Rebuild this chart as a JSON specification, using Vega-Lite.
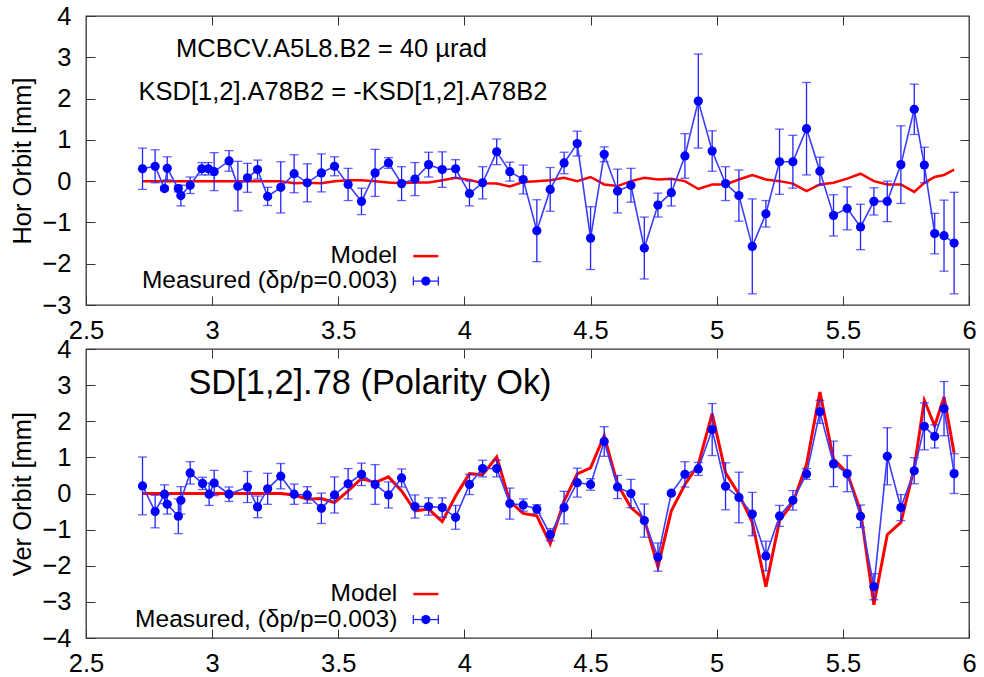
{
  "$schema": "https://vega.github.io/schema/vega-lite/v6.json",
  "padding": {"left": 10, "top": 3, "right": 5, "bottom": 5},
  "background": "#ffffff",
  "bounds": "flush",
  "spacing": 44,
  "datasets": {
    "hor": [
      {"x": 2.724, "y": 0.30, "e": 0.50, "m": 0},
      {"x": 2.774, "y": 0.36, "e": 0.40, "m": 0},
      {"x": 2.811, "y": -0.18, "e": 0.05, "m": 0},
      {"x": 2.822, "y": 0.31, "e": 0.28, "m": 0},
      {"x": 2.866, "y": -0.18, "e": 0.08, "m": 0},
      {"x": 2.876, "y": -0.35, "e": 0.25, "m": 0},
      {"x": 2.913, "y": -0.10, "e": 0.20, "m": 0},
      {"x": 2.959, "y": 0.30, "e": 0.15, "m": 0},
      {"x": 2.985, "y": 0.30, "e": 0.15, "m": 0},
      {"x": 3.008, "y": 0.23, "e": 0.46, "m": 0},
      {"x": 3.067, "y": 0.49, "e": 0.25, "m": 0},
      {"x": 3.102, "y": -0.12, "e": 0.60, "m": 0},
      {"x": 3.140, "y": 0.08, "e": 0.35, "m": 0},
      {"x": 3.180, "y": 0.28, "e": 0.23, "m": 0},
      {"x": 3.220, "y": -0.37, "e": 0.22, "m": 0},
      {"x": 3.272, "y": -0.15, "e": 0.62, "m": 0},
      {"x": 3.325, "y": 0.18, "e": 0.46, "m": -0.05},
      {"x": 3.377, "y": -0.04, "e": 0.46, "m": -0.04},
      {"x": 3.433, "y": 0.20, "e": 0.46, "m": -0.05},
      {"x": 3.485, "y": 0.36, "e": 0.23, "m": 0},
      {"x": 3.539, "y": -0.08, "e": 0.39, "m": 0.02},
      {"x": 3.592, "y": -0.49, "e": 0.32, "m": 0.02},
      {"x": 3.646, "y": 0.20, "e": 0.57, "m": 0},
      {"x": 3.699, "y": 0.44, "e": 0.13, "m": -0.03},
      {"x": 3.751, "y": -0.06, "e": 0.41, "m": -0.05},
      {"x": 3.804, "y": 0.05, "e": 0.40, "m": -0.03},
      {"x": 3.858, "y": 0.40, "e": 0.30, "m": -0.03},
      {"x": 3.912, "y": 0.28, "e": 0.43, "m": 0.02},
      {"x": 3.965, "y": 0.30, "e": 0.22, "m": 0.08},
      {"x": 4.020, "y": -0.30, "e": 0.30, "m": 0.03},
      {"x": 4.072, "y": -0.04, "e": 0.39, "m": -0.05},
      {"x": 4.128, "y": 0.71, "e": 0.31, "m": -0.06},
      {"x": 4.180, "y": 0.23, "e": 0.23, "m": -0.13},
      {"x": 4.233, "y": 0.04, "e": 0.35, "m": -0.02},
      {"x": 4.287, "y": -1.20, "e": 0.75, "m": 0},
      {"x": 4.340, "y": -0.20, "e": 0.53, "m": 0.02},
      {"x": 4.395, "y": 0.44, "e": 0.26, "m": 0.08},
      {"x": 4.447, "y": 0.91, "e": 0.30, "m": 0},
      {"x": 4.500, "y": -1.38, "e": 0.76, "m": 0.10},
      {"x": 4.554, "y": 0.65, "e": 0.18, "m": -0.08},
      {"x": 4.607, "y": -0.24, "e": 0.53, "m": -0.12},
      {"x": 4.660, "y": -0.10, "e": 0.41, "m": 0},
      {"x": 4.713, "y": -1.62, "e": 0.75, "m": 0.08},
      {"x": 4.767, "y": -0.58, "e": 0.29, "m": 0.04},
      {"x": 4.820, "y": -0.28, "e": 0.32, "m": 0.06},
      {"x": 4.874, "y": 0.61, "e": 0.54, "m": 0},
      {"x": 4.927, "y": 1.94, "e": 1.14, "m": -0.19},
      {"x": 4.982, "y": 0.73, "e": 0.49, "m": -0.08},
      {"x": 5.035, "y": -0.06, "e": 0.41, "m": -0.08},
      {"x": 5.088, "y": -0.35, "e": 0.62, "m": 0.04},
      {"x": 5.141, "y": -1.58, "e": 1.15, "m": 0.15},
      {"x": 5.195, "y": -0.79, "e": 0.32, "m": 0.04},
      {"x": 5.249, "y": 0.47, "e": 0.79, "m": 0},
      {"x": 5.302, "y": 0.47, "e": 0.64, "m": -0.06},
      {"x": 5.356, "y": 1.27, "e": 1.12, "m": -0.24},
      {"x": 5.409, "y": 0.24, "e": 0.34, "m": -0.08},
      {"x": 5.463, "y": -0.83, "e": 0.50, "m": -0.04},
      {"x": 5.517, "y": -0.66, "e": 0.52, "m": 0.06},
      {"x": 5.570, "y": -1.11, "e": 0.55, "m": 0.18},
      {"x": 5.623, "y": -0.49, "e": 0.33, "m": 0},
      {"x": 5.676, "y": -0.49, "e": 0.49, "m": -0.08},
      {"x": 5.730, "y": 0.40, "e": 0.94, "m": -0.08},
      {"x": 5.783, "y": 1.74, "e": 0.61, "m": -0.26},
      {"x": 5.823, "y": 0.39, "e": 0.43, "m": -0.04},
      {"x": 5.864, "y": -1.27, "e": 0.49, "m": 0.10},
      {"x": 5.901, "y": -1.32, "e": 0.86, "m": 0.15},
      {"x": 5.941, "y": -1.50, "e": 1.23, "m": 0.28}
    ],
    "ver": [
      {"x": 2.724, "y": 0.21, "e": 0.80, "m": 0},
      {"x": 2.774, "y": -0.50, "e": 0.45, "m": 0},
      {"x": 2.811, "y": -0.02, "e": 0.26, "m": 0},
      {"x": 2.822, "y": -0.30, "e": 0.27, "m": 0},
      {"x": 2.866, "y": -0.63, "e": 0.48, "m": 0},
      {"x": 2.876, "y": -0.19, "e": 0.38, "m": 0},
      {"x": 2.913, "y": 0.57, "e": 0.31, "m": 0},
      {"x": 2.962, "y": 0.28, "e": 0.17, "m": 0},
      {"x": 2.988, "y": -0.02, "e": 0.31, "m": 0},
      {"x": 3.008, "y": 0.29, "e": 0.35, "m": 0},
      {"x": 3.067, "y": -0.02, "e": 0.20, "m": 0},
      {"x": 3.140, "y": 0.18, "e": 0.43, "m": 0},
      {"x": 3.180, "y": -0.37, "e": 0.30, "m": 0},
      {"x": 3.220, "y": 0.13, "e": 0.43, "m": 0},
      {"x": 3.272, "y": 0.48, "e": 0.35, "m": 0},
      {"x": 3.325, "y": -0.02, "e": 0.28, "m": -0.04},
      {"x": 3.377, "y": -0.04, "e": 0.23, "m": -0.16},
      {"x": 3.433, "y": -0.41, "e": 0.42, "m": -0.14},
      {"x": 3.485, "y": -0.04, "e": 0.50, "m": -0.25},
      {"x": 3.539, "y": 0.27, "e": 0.42, "m": 0.07},
      {"x": 3.592, "y": 0.53, "e": 0.31, "m": 0.42},
      {"x": 3.646, "y": 0.25, "e": 0.55, "m": 0.30},
      {"x": 3.699, "y": -0.04, "e": 0.36, "m": 0.46},
      {"x": 3.751, "y": 0.43, "e": 0.25, "m": 0.07},
      {"x": 3.804, "y": -0.36, "e": 0.32, "m": -0.48},
      {"x": 3.858, "y": -0.36, "e": 0.24, "m": -0.43},
      {"x": 3.912, "y": -0.39, "e": 0.27, "m": -0.78},
      {"x": 3.965, "y": -0.66, "e": 0.33, "m": -0.07},
      {"x": 4.020, "y": 0.25, "e": 0.28, "m": 0.55},
      {"x": 4.072, "y": 0.69, "e": 0.23, "m": 0.52},
      {"x": 4.128, "y": 0.69, "e": 0.23, "m": 1.01},
      {"x": 4.180, "y": -0.28, "e": 0.43, "m": -0.22},
      {"x": 4.233, "y": -0.32, "e": 0.17, "m": -0.55},
      {"x": 4.287, "y": -0.43, "e": 0.12, "m": -0.62},
      {"x": 4.340, "y": -1.14, "e": 0.17, "m": -1.39},
      {"x": 4.395, "y": -0.39, "e": 0.45, "m": -0.21},
      {"x": 4.447, "y": 0.30, "e": 0.40, "m": 0.54},
      {"x": 4.500, "y": 0.25, "e": 0.16, "m": 0.71},
      {"x": 4.554, "y": 1.44, "e": 0.41, "m": 1.60},
      {"x": 4.607, "y": 0.18, "e": 0.32, "m": 0.25},
      {"x": 4.660, "y": 0.00, "e": 0.39, "m": -0.39},
      {"x": 4.713, "y": -0.75, "e": 0.46, "m": -0.71},
      {"x": 4.767, "y": -1.76, "e": 0.39, "m": -2.03},
      {"x": 4.820, "y": 0.01, "e": 0.05, "m": -0.48},
      {"x": 4.874, "y": 0.53, "e": 0.35, "m": 0.25},
      {"x": 4.927, "y": 0.68, "e": 0.18, "m": 0.80},
      {"x": 4.982, "y": 1.77, "e": 0.72, "m": 2.21},
      {"x": 5.035, "y": 0.20, "e": 0.65, "m": 0.57},
      {"x": 5.088, "y": -0.11, "e": 0.70, "m": -0.02},
      {"x": 5.141, "y": -0.57, "e": 0.60, "m": -0.80},
      {"x": 5.195, "y": -1.73, "e": 0.41, "m": -2.58},
      {"x": 5.249, "y": -0.62, "e": 0.29, "m": -0.75},
      {"x": 5.302, "y": -0.19, "e": 0.27, "m": -0.25},
      {"x": 5.356, "y": 0.54, "e": 0.15, "m": 0.80},
      {"x": 5.409, "y": 2.26, "e": 0.32, "m": 2.81},
      {"x": 5.463, "y": 0.82, "e": 0.63, "m": 0.95},
      {"x": 5.517, "y": 0.55, "e": 0.50, "m": 0.57},
      {"x": 5.570, "y": -0.63, "e": 0.31, "m": -0.48},
      {"x": 5.623, "y": -2.58, "e": 0.36, "m": -3.08},
      {"x": 5.676, "y": 1.03, "e": 0.79, "m": -1.14},
      {"x": 5.730, "y": -0.39, "e": 0.36, "m": -0.80},
      {"x": 5.783, "y": 0.63, "e": 0.36, "m": 0.71},
      {"x": 5.823, "y": 1.86, "e": 0.65, "m": 2.58},
      {"x": 5.864, "y": 1.58, "e": 0.32, "m": 1.87},
      {"x": 5.901, "y": 2.35, "e": 0.75, "m": 2.67},
      {"x": 5.941, "y": 0.55, "e": 0.55, "m": 1.12}
    ]
  },
  "config": {
    "font": "Liberation Sans",
    "view": {"stroke": "#333333", "strokeWidth": 1.3},
    "axis": {
      "grid": false, "domain": false,
      "tickSize": -9, "tickColor": "#333333", "tickWidth": 1,
      "labelFont": "Liberation Sans", "labelFontSize": 25.5, "labelColor": "#000000",
      "labelFlush": false, "labelOverlap": false,
      "titleFont": "Liberation Sans", "titleFontSize": 25.5, "titleFontWeight": "normal", "titleColor": "#000000"
    },
    "text": {"font": "Liberation Sans", "color": "#000000", "fontSize": 25.5}
  },
  "vconcat": [
    {
      "width": 883, "height": 289,
      "data": {"name": "hor"},
      "layer": [
        {
          "mark": {"type": "line", "color": "#ff0000", "strokeWidth": 2.5},
          "encoding": {
            "x": {"field": "x", "type": "quantitative", "scale": {"domain": [2.5, 6]},
                  "axis": {"orient": "bottom", "values": [2.5, 3, 3.5, 4, 4.5, 5, 5.5, 6], "format": "~g", "labelPadding": 22, "title": null}},
            "y": {"field": "m", "type": "quantitative", "scale": {"domain": [-3, 4]},
                  "axis": {"orient": "left", "values": [-3, -2, -1, 0, 1, 2, 3, 4], "labelPadding": 24, "title": "Hor Orbit [mm]", "titlePadding": 6}}
          }
        },
        {
          "mark": {"type": "errorbar", "color": "#2222ff", "thickness": 1.3, "ticks": {"size": 9, "thickness": 1.3, "color": "#2222ff"}},
          "encoding": {
            "x": {"field": "x", "type": "quantitative", "axis": null},
            "y": {"field": "y", "type": "quantitative", "axis": null},
            "yError": {"field": "e"}
          }
        },
        {
          "mark": {"type": "line", "color": "#3c3cff", "strokeWidth": 1.6},
          "encoding": {
            "x": {"field": "x", "type": "quantitative", "axis": null},
            "y": {"field": "y", "type": "quantitative", "axis": null}
          }
        },
        {
          "mark": {"type": "point", "filled": true, "size": 85, "opacity": 1, "color": "#0000ff"},
          "encoding": {
            "x": {"field": "x", "type": "quantitative", "axis": null},
            "y": {"field": "y", "type": "quantitative", "axis": null}
          }
        },
        {
          "data": {"values": [{"label": "MCBCV.A5L8.B2 = 40 µrad"}]},
          "mark": {"type": "text", "align": "center", "baseline": "middle"},
          "encoding": {
            "x": {"datum": 3.473, "type": "quantitative", "axis": null},
            "y": {"datum": 3.196, "type": "quantitative", "axis": null},
            "text": {"field": "label"}
          }
        },
        {
          "data": {"values": [{"label": "KSD[1,2].A78B2 = -KSD[1,2].A78B2"}]},
          "mark": {"type": "text", "align": "left", "baseline": "middle"},
          "encoding": {
            "x": {"datum": 2.708, "type": "quantitative", "axis": null},
            "y": {"datum": 2.155, "type": "quantitative", "axis": null},
            "text": {"field": "label"}
          }
        },
        {
          "data": {"values": [{"label": "Model"}]},
          "mark": {"type": "text", "align": "right", "baseline": "middle", "fontSize": 24.5},
          "encoding": {
            "x": {"datum": 3.734, "type": "quantitative", "axis": null},
            "y": {"datum": -1.816, "type": "quantitative", "axis": null},
            "text": {"field": "label"}
          }
        },
        {
          "data": {"values": [{"label": "Measured (δp/p=0.003)"}]},
          "mark": {"type": "text", "align": "right", "baseline": "middle", "fontSize": 24.5},
          "encoding": {
            "x": {"datum": 3.734, "type": "quantitative", "axis": null},
            "y": {"datum": -2.421, "type": "quantitative", "axis": null},
            "text": {"field": "label"}
          }
        },
        {
          "data": {"values": [{"label": "Model"}]},
          "mark": {"type": "rule", "color": "#ff0000", "strokeWidth": 2.5},
          "encoding": {
            "x": {"datum": 3.7975, "type": "quantitative", "axis": null},
            "x2": {"datum": 3.8966},
            "y": {"datum": -1.816, "type": "quantitative", "axis": null}
          }
        },
        {
          "data": {"values": [{"label": "Measured"}]},
          "mark": {"type": "rule", "color": "#2222ff", "strokeWidth": 1.3},
          "encoding": {
            "x": {"datum": 3.7975, "type": "quantitative", "axis": null},
            "x2": {"datum": 3.8966},
            "y": {"datum": -2.421, "type": "quantitative", "axis": null}
          }
        },
        {
          "data": {"values": [{"label": "Measured"}]},
          "mark": {"type": "rule", "color": "#2222ff", "strokeWidth": 1.3},
          "encoding": {
            "x": {"datum": 3.7975, "type": "quantitative", "axis": null},
            "y": {"datum": -2.312, "type": "quantitative", "axis": null},
            "y2": {"datum": -2.530}
          }
        },
        {
          "data": {"values": [{"label": "Measured"}]},
          "mark": {"type": "rule", "color": "#2222ff", "strokeWidth": 1.3},
          "encoding": {
            "x": {"datum": 3.8966, "type": "quantitative", "axis": null},
            "y": {"datum": -2.312, "type": "quantitative", "axis": null},
            "y2": {"datum": -2.530}
          }
        },
        {
          "data": {"values": [{"label": "Measured"}]},
          "mark": {"type": "point", "filled": true, "size": 85, "opacity": 1, "color": "#0000ff"},
          "encoding": {
            "x": {"datum": 3.847, "type": "quantitative", "axis": null},
            "y": {"datum": -2.421, "type": "quantitative", "axis": null}
          }
        },
        {
          "mark": {"type": "line", "opacity": 0},
          "encoding": {
            "x": {"field": "x", "type": "quantitative", "axis": {"orient": "top", "values": [3, 3.5, 4, 4.5, 5, 5.5], "labels": false, "title": null}},
            "y": {"field": "y", "type": "quantitative", "axis": {"orient": "right", "values": [-2, -1, 0, 1, 2, 3], "labels": false, "title": null}}
          }
        }
      ],
      "resolve": {"axis": {"x": "independent", "y": "independent"}}
    },
    {
      "width": 883, "height": 289,
      "data": {"name": "ver"},
      "layer": [
        {
          "mark": {"type": "line", "color": "#ff0000", "strokeWidth": 3},
          "encoding": {
            "x": {"field": "x", "type": "quantitative", "scale": {"domain": [2.5, 6]},
                  "axis": {"orient": "bottom", "values": [2.5, 3, 3.5, 4, 4.5, 5, 5.5, 6], "format": "~g", "labelPadding": 22, "title": null}},
            "y": {"field": "m", "type": "quantitative", "scale": {"domain": [-4, 4]},
                  "axis": {"orient": "left", "values": [-4, -3, -2, -1, 0, 1, 2, 3, 4], "labelPadding": 24, "title": "Ver Orbit [mm]", "titlePadding": 6}}
          }
        },
        {
          "mark": {"type": "errorbar", "color": "#2222ff", "thickness": 1.3, "ticks": {"size": 9, "thickness": 1.3, "color": "#2222ff"}},
          "encoding": {
            "x": {"field": "x", "type": "quantitative", "axis": null},
            "y": {"field": "y", "type": "quantitative", "axis": null},
            "yError": {"field": "e"}
          }
        },
        {
          "mark": {"type": "line", "color": "#3c3cff", "strokeWidth": 1.6},
          "encoding": {
            "x": {"field": "x", "type": "quantitative", "axis": null},
            "y": {"field": "y", "type": "quantitative", "axis": null}
          }
        },
        {
          "mark": {"type": "point", "filled": true, "size": 85, "opacity": 1, "color": "#0000ff"},
          "encoding": {
            "x": {"field": "x", "type": "quantitative", "axis": null},
            "y": {"field": "y", "type": "quantitative", "axis": null}
          }
        },
        {
          "data": {"values": [{"label": "SD[1,2].78 (Polarity Ok)"}]},
          "mark": {"type": "text", "align": "left", "baseline": "middle", "fontSize": 34.4},
          "encoding": {
            "x": {"datum": 2.906, "type": "quantitative", "axis": null},
            "y": {"datum": 3.03, "type": "quantitative", "axis": null},
            "text": {"field": "label"}
          }
        },
        {
          "data": {"values": [{"label": "Model"}]},
          "mark": {"type": "text", "align": "right", "baseline": "middle", "fontSize": 24.5},
          "encoding": {
            "x": {"datum": 3.734, "type": "quantitative", "axis": null},
            "y": {"datum": -2.784, "type": "quantitative", "axis": null},
            "text": {"field": "label"}
          }
        },
        {
          "data": {"values": [{"label": "Measured, (δp/p=0.003)"}]},
          "mark": {"type": "text", "align": "right", "baseline": "middle", "fontSize": 24.5},
          "encoding": {
            "x": {"datum": 3.734, "type": "quantitative", "axis": null},
            "y": {"datum": -3.49, "type": "quantitative", "axis": null},
            "text": {"field": "label"}
          }
        },
        {
          "data": {"values": [{"label": "Model"}]},
          "mark": {"type": "rule", "color": "#ff0000", "strokeWidth": 2.5},
          "encoding": {
            "x": {"datum": 3.7975, "type": "quantitative", "axis": null},
            "x2": {"datum": 3.8966},
            "y": {"datum": -2.784, "type": "quantitative", "axis": null}
          }
        },
        {
          "data": {"values": [{"label": "Measured"}]},
          "mark": {"type": "rule", "color": "#2222ff", "strokeWidth": 1.3},
          "encoding": {
            "x": {"datum": 3.7975, "type": "quantitative", "axis": null},
            "x2": {"datum": 3.8966},
            "y": {"datum": -3.49, "type": "quantitative", "axis": null}
          }
        },
        {
          "data": {"values": [{"label": "Measured"}]},
          "mark": {"type": "rule", "color": "#2222ff", "strokeWidth": 1.3},
          "encoding": {
            "x": {"datum": 3.7975, "type": "quantitative", "axis": null},
            "y": {"datum": -3.365, "type": "quantitative", "axis": null},
            "y2": {"datum": -3.615}
          }
        },
        {
          "data": {"values": [{"label": "Measured"}]},
          "mark": {"type": "rule", "color": "#2222ff", "strokeWidth": 1.3},
          "encoding": {
            "x": {"datum": 3.8966, "type": "quantitative", "axis": null},
            "y": {"datum": -3.365, "type": "quantitative", "axis": null},
            "y2": {"datum": -3.615}
          }
        },
        {
          "data": {"values": [{"label": "Measured"}]},
          "mark": {"type": "point", "filled": true, "size": 85, "opacity": 1, "color": "#0000ff"},
          "encoding": {
            "x": {"datum": 3.847, "type": "quantitative", "axis": null},
            "y": {"datum": -3.49, "type": "quantitative", "axis": null}
          }
        },
        {
          "mark": {"type": "line", "opacity": 0},
          "encoding": {
            "x": {"field": "x", "type": "quantitative", "axis": {"orient": "top", "values": [3, 3.5, 4, 4.5, 5, 5.5], "labels": false, "title": null}},
            "y": {"field": "y", "type": "quantitative", "axis": {"orient": "right", "values": [-3, -2, -1, 0, 1, 2, 3], "labels": false, "title": null}}
          }
        }
      ],
      "resolve": {"axis": {"x": "independent", "y": "independent"}}
    }
  ]
}
